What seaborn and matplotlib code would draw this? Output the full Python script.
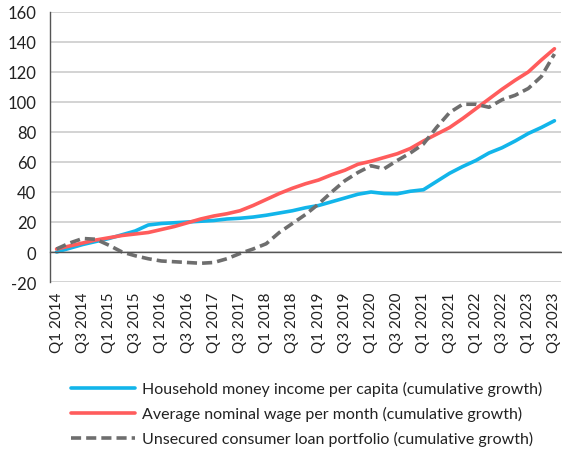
import numpy as np
import pandas as pd
import matplotlib
matplotlib.use("Agg")
import matplotlib.pyplot as plt
import seaborn as sns

years = list(range(2014, 2024))
quarters = [f"Q{q} {y}" for y in years for q in (1, 2, 3, 4)][:39]

income = [0, 2.5, 5, 7, 9, 11.5, 14, 18, 19, 19.5, 20, 20.5, 21, 22, 22.5, 23.3,
          24.5, 26, 27.5, 29.5, 31, 33.5, 36, 38.5, 40, 39, 38.8, 40.5, 41.5, 47,
          52.5, 57, 61, 66, 69.5, 74, 79, 83, 87.5]
wage = [2, 4, 6, 8, 9.5, 11, 12, 13, 15, 17, 19.5, 22, 24, 25.5, 27.5, 31,
        35, 39, 42.5, 45.5, 48, 51.5, 54.5, 58.5, 60.5, 63, 65.5, 69, 74, 78.5,
        83, 89, 95.5, 102, 108.5, 114.5, 120, 128, 135.5]
loans = [2, 6, 9, 8.5, 4.5, 0, -2.5, -4.5, -6, -6.5, -7, -7.5, -7, -4.5, -1, 2,
         5.5, 13, 19, 25, 32, 40, 47.5, 53, 57.5, 55.5, 61, 66, 72, 83,
         93, 98.5, 98.5, 96.5, 101.5, 104.5, 109, 117, 132]

series_names = [
    "Household money income per capita (cumulative growth)",
    "Average nominal wage per month (cumulative growth)",
    "Unsecured consumer loan portfolio (cumulative growth)",
]
colors = ["#12b5ea", "#ff5c5c", "#6e6e6e"]

rows = []
for name, vals in zip(series_names, [income, wage, loans]):
    for i, v in enumerate(vals):
        rows.append({"idx": i, "value": v, "series": name})
df = pd.DataFrame(rows)

sns.set_style("white")
plt.rcParams["font.family"] = ["Lato", "DejaVu Sans"]
plt.rcParams["axes.unicode_minus"] = False

fig = plt.figure(figsize=(5.62, 4.52), dpi=100)
ax = fig.add_axes([50 / 562, 1 - 283 / 452, 511 / 562, 270 / 452])

sns.lineplot(data=df, x="idx", y="value", hue="series", style="series",
             hue_order=series_names, style_order=series_names,
             palette=dict(zip(series_names, colors)),
             dashes={series_names[0]: "", series_names[1]: "",
                     series_names[2]: (2.8, 1.4)},
             linewidth=2.6, ax=ax, legend=True)

ymin, ymax = -20, 160
ax.set_ylim(ymin, ymax)
ax.set_xlim(-0.5, len(quarters) - 0.5)
ax.set_yticks(np.arange(-20, 161, 20))
ax.yaxis.grid(True, color="#c8c8c8", linewidth=1.1)
ax.set_axisbelow(True)
ax.set_xlabel("")
ax.set_ylabel("")

for s in ["top", "right"]:
    ax.spines[s].set_visible(False)
ax.spines["left"].set_color("#555555")
ax.spines["left"].set_linewidth(1.0)
ax.tick_params(axis="y", length=5, width=1.0, color="#555555", pad=5,
               labelsize=12, labelcolor="#222222")

# zero axis with category separator ticks
ax.spines["bottom"].set_position(("data", 0))
ax.spines["bottom"].set_color("#555555")
ax.spines["bottom"].set_linewidth(1.0)
ax.set_xticks(np.arange(-0.5, len(quarters), 1.0))
ax.tick_params(axis="x", length=5, width=1.0, color="#555555", labelbottom=False)

# labels at bottom
sec = ax.secondary_xaxis(0.0)
sec.set_xticks(np.arange(0, len(quarters), 2))
sec.set_xticklabels(quarters[::2], rotation=90)
sec.tick_params(axis="x", length=0, pad=7, labelsize=11, labelcolor="#222222")
sec.spines["bottom"].set_visible(False)

handles, labels = ax.get_legend_handles_labels()
ax.get_legend().remove()
for h in handles:
    h.set_linewidth(2.6)
leg = fig.legend(handles, labels, loc="upper left",
                 bbox_to_anchor=(57 / 562, 1 - 368 / 452),
                 bbox_transform=fig.transFigure, frameon=False,
                 fontsize=11.5, handlelength=4.0, handletextpad=0.45,
                 labelspacing=0.62, labelcolor="#222222")

fig.savefig("out.png", dpi=100)
